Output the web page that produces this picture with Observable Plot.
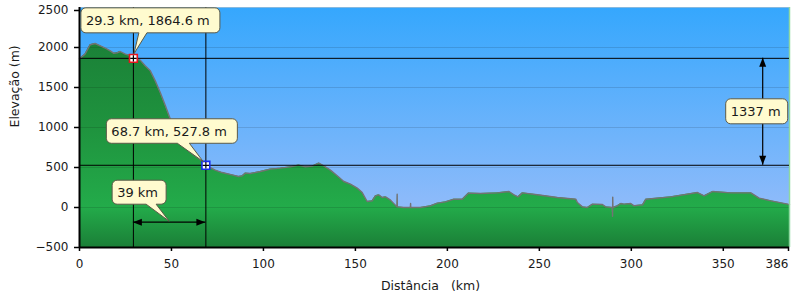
<!DOCTYPE html>
<html>
<head>
<meta charset="utf-8">
<script src="https://cdn.jsdelivr.net/npm/d3@7"></script>
<script src="https://cdn.jsdelivr.net/npm/@observablehq/plot@0.6"></script>
<style>
  html, body { margin: 0; padding: 0; background: #fff; }
  #chart svg { display: block; }
</style>
</head>
<body>
<div id="chart"></div>
<script>
// ---- data ----
const distance = [0,3,5.8,8.5,11.3,14,16.7,18.5,20.4,22.1,24.9,27.6,29.3,33,35.7,38.5,41.2,43.9,46.7,49.4,52.1,55.7,59.3,63,66.6,68.7,73.8,77.5,82.9,86.5,88.5,90.2,92.9,98.3,103.8,109.2,114.6,119.2,122.8,126.5,130.1,132.8,136.4,140.1,143.7,147.3,151,153.7,156.4,159.1,160.9,162.7,164.6,166.4,169.1,172.6,172.7,172.8,176.3,179.9,180,180.1,185.4,190.8,194.5,199,203.5,208.1,211.5,218.1,227.2,233.5,236.2,238.4,240.8,248.9,259.8,269.8,270.7,273.4,276.1,278.9,284.3,286.1,289.7,289.8,289.9,290,292.4,294.3,296.1,299.7,301.5,306.1,307.9,321.5,336,339.6,344.2,354.1,365,369.5,375.9,385,386];
const elevation = [1860,1917,2034,2050,2021,1992,1958,1929,1933,1950,1917,1900,1865,1842,1771,1708,1583,1437,1271,1104,958,812,708,646,583,528,467,437,408,387,396,430,425,450,480,492,508,530,508,517,555,521,467,396,325,292,242,187,75,83,146,158,125,133,92,8,167,8,0,0,50,0,0,21,54,71,104,104,180,175,183,200,158,133,183,160,125,104,62,8,0,42,38,8,0,-110,130,0,21,50,42,50,21,33,104,133,187,146,200,183,183,117,83,42,33];

const xDomain = [0, 386];
const yDomain = [-500, 2500];
const xTicks = [0, 50, 100, 150, 200, 250, 300, 350];
const xEndTick = [386];
const yTicks = [-500, 0, 500, 1000, 1500, 2000];
const yTopTick = [2500];

const markerA = { d: 29.3, e: 1864.6 };
const markerB = { d: 68.7, e: 527.8 };
const distArrowElev = -190;   // elevation where the distance arrow sits
const elevArrowDist = 371.7;  // distance where the height arrow sits

const yLabel = "Elevação (m)";
const xLabel = "Distância\u00a0\u00a0\u00a0(km)";

const labelA = `${markerA.d.toFixed(1)} km, ${markerA.e.toFixed(1)} m`;
const labelB = `${markerB.d.toFixed(1)} km, ${markerB.e.toFixed(1)} m`;
const labelDist = `${Math.round(markerB.d - markerA.d)} km`;
const labelElev = `${Math.round(markerA.e - markerB.e)} m`;

// colour stops by elevation (style)
const groundStops = [[2500, "#18722f"], [2000, "#1b8238"], [1000, "#1f933e"], [0, "#23ab4a"], [-500, "#1b7f37"]];
const skyStops = [[2500, "#35a7fd"], [0, "#8fbbfa"], [-500, "#98c0fa"]];

const profile = distance.map((d, i) => ({ d, e: elevation[i] }));
const FONT = "'DejaVu Sans', Verdana, sans-serif";
const plain = d3.format("d");

const chart = Plot.plot({
  width: 794,
  height: 301,
  marginLeft: 79,
  marginRight: 5,
  marginTop: 7,
  marginBottom: 54,
  style: { fontFamily: FONT, fontSize: "12px", color: "#1a1a1a", background: "#fff", overflow: "visible" },
  x: { domain: xDomain },
  y: { domain: yDomain },
  marks: [
    Plot.frame({ fill: "url(#skyGrad)", stroke: null }),
    Plot.areaY(profile, { x: "d", y1: yDomain[0], y2: "e", fill: "url(#groundGrad)" }),
    Plot.ruleY(yTicks.slice(1).concat(yTopTick), { stroke: "#000", strokeOpacity: 0.12 }),
    Plot.line(profile, { x: "d", y: "e", stroke: "#737373", strokeWidth: 1.4 }),
    Plot.ruleX(xEndTick, { stroke: "#8fd8a0", strokeWidth: 1.5 }),
    Plot.ruleX([markerA.d, markerB.d], { stroke: "#000", strokeWidth: 1 }),
    Plot.ruleY([markerA.e, markerB.e], { stroke: "#000", strokeWidth: 1 }),
    Plot.axisY({ ticks: yTicks, tickFormat: plain, tickSize: 5, tickPadding: 6, label: null, stroke: "#000", strokeWidth: 1.5 }),
    Plot.axisY({ ticks: yTopTick, tickFormat: plain, tickSize: 5, tickPadding: 6, label: null, dy: 3, stroke: "#000", strokeWidth: 1.5 }),
    Plot.axisX({ ticks: xTicks, tickFormat: plain, tickSize: 4, tickPadding: 8, label: null, stroke: "#000", strokeWidth: 1.5 }),
    Plot.axisX({ ticks: xEndTick, tickFormat: plain, tickSize: 4, tickPadding: 8, label: null, textAnchor: "end", dx: -1, stroke: "#000", strokeWidth: 1.5 }),
    Plot.ruleX([xDomain[0]], { stroke: "#000", strokeWidth: 2 }),
    Plot.ruleY([yDomain[0]], { stroke: "#000", strokeWidth: 2 }),
    Plot.text([yLabel], { frameAnchor: "left", rotate: -90, dx: -65, fontSize: 12.5, fill: "#1a1a1a" }),
    Plot.text([xLabel], { frameAnchor: "bottom", dy: 42, dx: -4, fontSize: 12.5, fill: "#1a1a1a" }),
    Plot.dot([markerA], { x: "d", y: "e", symbol: "square", r: 4.4, stroke: "#e8141e", fill: "#fff", strokeWidth: 1.6 }),
    Plot.dot([markerB], { x: "d", y: "e", symbol: "square", r: 4.4, stroke: "#1a2cf0", fill: "#fff", strokeWidth: 1.6 }),
    Plot.dot([markerA, markerB], { x: "d", y: "e", symbol: "plus", r: 2.2, stroke: "#000", strokeWidth: 1.2 })
  ]
});

document.getElementById("chart").appendChild(chart);

// ---- gradients & annotations (positions via Plot's scales) ----
const xs = chart.scale("x"), ys = chart.scale("y");
const X = v => xs.apply(v), Y = v => ys.apply(v);
const svg = d3.select(chart);
const defs = svg.insert("defs", ":first-child");
const yTop = Y(yDomain[1]), yBot = Y(yDomain[0]);
function grad(id, stops) {
  const g = defs.append("linearGradient").attr("id", id)
    .attr("gradientUnits", "userSpaceOnUse")
    .attr("x1", 0).attr("x2", 0).attr("y1", yTop).attr("y2", yBot);
  stops.forEach(([e, c]) => g.append("stop")
    .attr("offset", (Y(e) - yTop) / (yBot - yTop)).attr("stop-color", c));
}
grad("groundGrad", groundStops);
grad("skyGrad", skyStops);

const ann = svg.append("g").attr("text-anchor", "start");

function calloutPath(bx, by, w, h, r, wedge) {
  let p = `M${bx + r},${by}H${bx + w - r}A${r},${r} 0 0 1 ${bx + w},${by + r}V${by + h - r}A${r},${r} 0 0 1 ${bx + w - r},${by + h}`;
  if (wedge) p += `H${wedge.x2}L${wedge.tx},${wedge.ty}L${wedge.x1},${by + h}`;
  p += `H${bx + r}A${r},${r} 0 0 1 ${bx},${by + h - r}V${by + r}A${r},${r} 0 0 1 ${bx + r},${by}Z`;
  return p;
}
function callout(bx, by, w, h, text, wedge) {
  ann.append("path").attr("d", calloutPath(bx, by, w, h, 5, wedge))
    .attr("fill", "#fffbcf").attr("stroke", "#5c5a48").attr("stroke-width", 1);
  ann.append("text").attr("x", bx + 5).attr("y", by + h / 2).attr("dy", "0.36em")
    .attr("text-anchor", "start")
    .attr("font-family", FONT).attr("font-size", 13).attr("fill", "#1a1a1a").text(text);
}

// arrows
function hArrow(x1, x2, y) {
  ann.append("line").attr("x1", x1).attr("x2", x2).attr("y1", y).attr("y2", y).attr("stroke", "#000").attr("stroke-width", 1.2);
  ann.append("path").attr("d", `M${x1},${y}L${x1 + 9},${y - 3.5}L${x1 + 9},${y + 3.5}Z`).attr("fill", "#000");
  ann.append("path").attr("d", `M${x2},${y}L${x2 - 9},${y - 3.5}L${x2 - 9},${y + 3.5}Z`).attr("fill", "#000");
}
function vArrow(x, y1, y2) {
  ann.append("line").attr("x1", x).attr("x2", x).attr("y1", y1).attr("y2", y2).attr("stroke", "#000").attr("stroke-width", 1.2);
  ann.append("path").attr("d", `M${x},${y1}L${x - 3.5},${y1 + 9}L${x + 3.5},${y1 + 9}Z`).attr("fill", "#000");
  ann.append("path").attr("d", `M${x},${y2}L${x - 3.5},${y2 - 9}L${x + 3.5},${y2 - 9}Z`).attr("fill", "#000");
}

const ax = X(markerA.d), ay = Y(markerA.e);
const bx = X(markerB.d), by = Y(markerB.e);

const arY = Y(distArrowElev);
hArrow(ax, bx, arY);
const mx = (ax + bx) / 2;
callout(mx - 57, arY - 42, 54, 24, labelDist, { x1: mx - 23, x2: mx - 13, tx: mx, ty: arY - 1 });

const avx = X(elevArrowDist);
vArrow(avx, ay, by);
const my = (ay + by) / 2;
callout(avx - 37, my - 12.5, 62, 25, labelElev, null);

callout(ax - 52, ay - 50, 139, 25, labelA, { x1: ax + 6, x2: ax + 14, tx: ax + 1, ty: ay - 4 });
callout(bx - 99, by - 46, 131, 24.5, labelB, { x1: bx - 28, x2: bx - 16, tx: bx - 2, ty: by - 3 });
</script>
</body>
</html>
